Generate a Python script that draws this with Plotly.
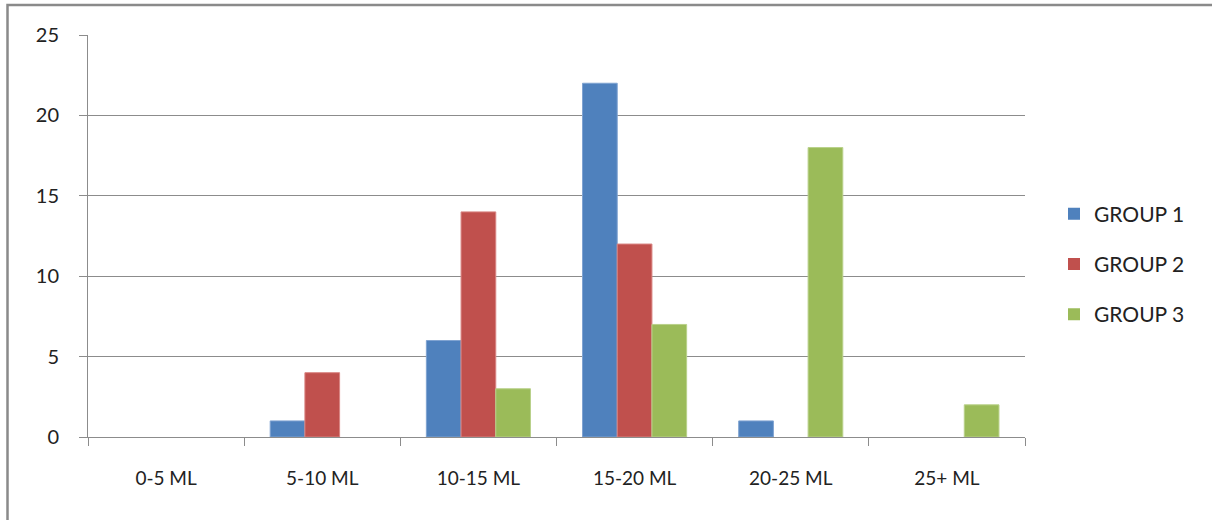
import plotly.graph_objects as go

# Volume bands and counts per group
categories = ["0-5 ML", "5-10 ML", "10-15 ML", "15-20 ML", "20-25 ML", "25+ ML"]
group1 = [0, 1, 6, 22, 1, 0]
group2 = [0, 4, 14, 12, 0, 0]
group3 = [0, 0, 3, 7, 18, 2]

series_names = ["GROUP 1", "GROUP 2", "GROUP 3"]
series_colors = ["#4F81BD", "#C0504D", "#9BBB59"]
edge_colors = ["#7FA3D1", "#D98583", "#B9D18A"]

W, H = 1212, 520
L, R, T, B = 88, 187, 35, 83
pw, ph = W - L - R, H - T - B

def px_x(p):
    return (p - L) / pw

def px_y(p):
    return (H - B - p) / ph

font_family = "Lato, 'Open Sans', sans-serif"

fig = go.Figure()
for name, vals, col, edge in zip(series_names, [group1, group2, group3], series_colors, edge_colors):
    fig.add_trace(go.Bar(
        name=name, x=categories, y=vals,
        marker=dict(color=col,
                    line=dict(color=edge, width=[1 if v else 0 for v in vals])),
        legendgroup=name,
    ))

fig.update_layout(
    width=W, height=H,
    margin=dict(l=L, r=R, t=T, b=B, autoexpand=False),
    paper_bgcolor="white", plot_bgcolor="white",
    barmode="group", bargap=1.5 / 4.5, bargroupgap=0,
    font=dict(family=font_family, size=19, color="#222222"),
    showlegend=True,
    legend=dict(
        x=px_x(1054), y=px_y(264), xanchor="left", yanchor="middle",
        font=dict(size=21, color="#222222"),
        tracegroupgap=20, itemwidth=30,
        bgcolor="rgba(0,0,0,0)",
    ),
    xaxis=dict(
        showgrid=False, showline=True, linecolor="#8c8c8c", linewidth=1,
        ticks="outside", ticklen=8, tickcolor="#8c8c8c", tickson="boundaries",
        ticklabelstandoff=24, tickfont=dict(size=19, color="#222222"),
        zeroline=False, fixedrange=True,
    ),
    yaxis=dict(
        range=[0, 25], dtick=5, showgrid=True, gridcolor="#8c8c8c", gridwidth=1,
        showline=True, linecolor="#8c8c8c", linewidth=1,
        ticks="outside", ticklen=8, tickcolor="#8c8c8c",
        ticklabelstandoff=16, tickfont=dict(size=20, color="#222222"),
        zeroline=False, fixedrange=True,
    ),
    shapes=[
        # outer frame of the chart area
        dict(type="rect", xref="paper", yref="paper",
             x0=px_x(7.5), x1=px_x(1260), y0=px_y(600), y1=px_y(5),
             line=dict(color="#8a8a8a", width=2.5), fillcolor="rgba(0,0,0,0)",
             layer="below"),
    ],
)

fig.write_html("out.html")
